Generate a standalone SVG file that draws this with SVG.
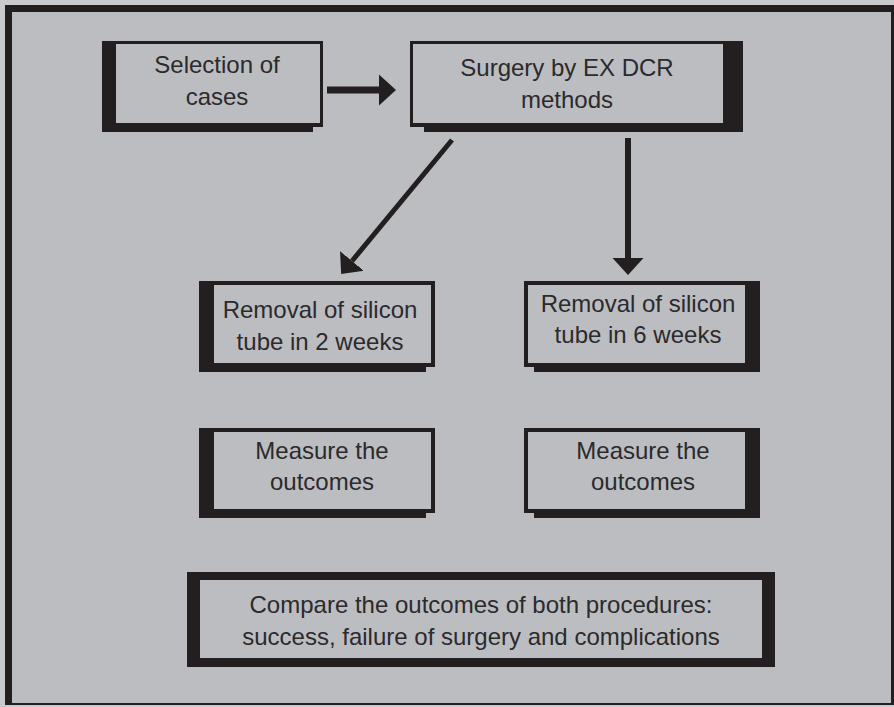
<svg xmlns="http://www.w3.org/2000/svg" width="894" height="707" viewBox="0 0 894 707">
  <style>
    .dark { fill: #231f20; }
    .inner { fill: #bcbdc1; }
    .label { font-family: "Liberation Sans", Arial, sans-serif; font-size: 24px; fill: #2b2a2c; text-anchor: middle; }
    .conn { stroke: #231f20; fill: none; }
  </style>
  <defs>
    <marker id="head" markerUnits="userSpaceOnUse" markerWidth="18" markerHeight="32" viewBox="0 -16 18 32" refX="0" refY="0" orient="auto">
      <path d="M0,-15.5 L17,0 L0,15.5 Z" fill="#231f20"/>
    </marker>
  </defs>

  <rect x="0" y="0" width="894" height="707" fill="#c9cacd"/>
  <g id="frame">
    <rect x="5" y="5" width="889" height="700" class="dark"/>
    <rect x="12" y="12" width="879" height="691" class="inner"/>
  </g>

  <g id="node-selection">
    <path class="dark" d="M102,41 H323 V127 H313 V132 H102 Z"/>
    <rect class="inner" x="116" y="44" width="204" height="79"/>
    <text class="label" x="217" y="73">Selection of</text>
    <text class="label" x="217" y="105">cases</text>
  </g>

  <g id="node-surgery">
    <path class="dark" d="M410,41 H743 V132 H424 V127 H410 Z"/>
    <rect class="inner" x="413" y="44" width="310" height="79"/>
    <text class="label" x="567" y="76">Surgery by EX DCR</text>
    <text class="label" x="567" y="108">methods</text>
  </g>

  <g id="node-removal-2">
    <path class="dark" d="M199,281 H435 V367 H426 V372 H199 Z"/>
    <rect class="inner" x="214" y="285" width="217" height="78"/>
    <text class="label" x="320" y="318">Removal of silicon</text>
    <text class="label" x="320" y="350">tube in 2 weeks</text>
  </g>

  <g id="node-removal-6">
    <path class="dark" d="M524,281 H760 V372 H534 V367 H524 Z"/>
    <rect class="inner" x="528" y="285" width="217" height="78"/>
    <text class="label" x="638" y="312">Removal of silicon</text>
    <text class="label" x="638" y="343">tube in 6 weeks</text>
  </g>

  <g id="node-measure-1">
    <path class="dark" d="M199,428 H435 V513 H426 V518 H199 Z"/>
    <rect class="inner" x="214" y="432" width="217" height="77"/>
    <text class="label" x="322" y="459">Measure the</text>
    <text class="label" x="322" y="490">outcomes</text>
  </g>

  <g id="node-measure-2">
    <path class="dark" d="M524,428 H760 V518 H534 V513 H524 Z"/>
    <rect class="inner" x="528" y="432" width="217" height="77"/>
    <text class="label" x="643" y="459">Measure the</text>
    <text class="label" x="643" y="490">outcomes</text>
  </g>

  <g id="node-compare">
    <rect class="dark" x="187" y="572" width="588" height="95"/>
    <rect class="inner" x="200" y="580" width="562" height="78"/>
    <text class="label" x="481" y="613">Compare the outcomes of both procedures:</text>
    <text class="label" x="481" y="645">success, failure of surgery and complications</text>
  </g>

  <g id="connectors">
    <line class="conn" x1="327" y1="90" x2="379" y2="90" stroke-width="7" marker-end="url(#head)"/>
    <line class="conn" x1="452" y1="140" x2="352" y2="261" stroke-width="5" marker-end="url(#head)"/>
    <line class="conn" x1="628" y1="138" x2="628" y2="258" stroke-width="6" marker-end="url(#head)"/>
  </g>
</svg>
